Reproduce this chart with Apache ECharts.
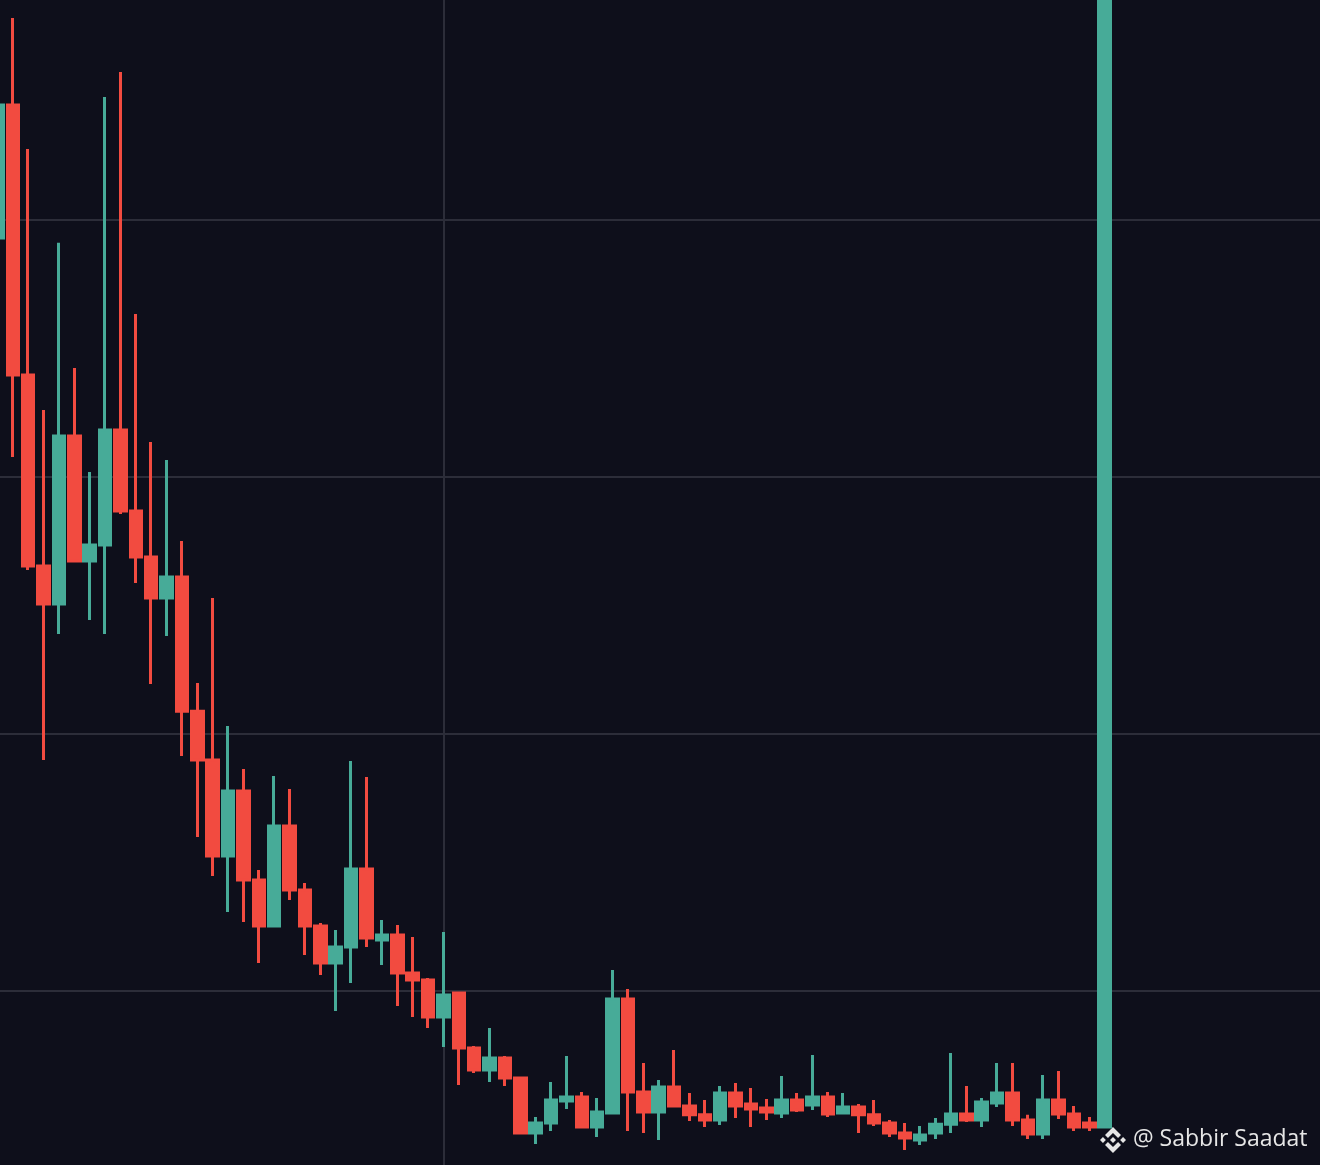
<!DOCTYPE html>
<html>
<head>
<meta charset="utf-8">
<title>Candles</title>
<script src="https://cdn.jsdelivr.net/npm/echarts@6/dist/echarts.min.js"></script>
<style>
  html, body { margin: 0; padding: 0; background: #0e0f1b; }
  #chart { width: 1320px; height: 1165px; }
</style>
</head>
<body>
<div id="chart"></div>
<script>
// candle values (one grid step = 1 unit, no labels shown)
var opens = [3.930, 4.447, 3.397, 2.654, 2.506, 3.160, 2.673, 2.735, 3.183, 2.868,
  2.689, 2.529, 2.611, 2.089, 1.899, 1.525, 1.778, 1.432, 1.253, 1.642,
  1.393, 1.253, 1.109, 1.171, 1.475, 1.198, 1.218, 1.070, 1.043, 0.899,
  0.992, 0.778, 0.693, 0.739, 0.661, 0.447, 0.486, 0.572, 0.588, 0.471,
  0.525, 0.969, 0.607, 0.529, 0.626, 0.553, 0.518, 0.498, 0.603, 0.560,
  0.545, 0.525, 0.576, 0.556, 0.588, 0.525, 0.549, 0.518, 0.486, 0.447,
  0.420, 0.447, 0.482, 0.521, 0.498, 0.564, 0.603, 0.498, 0.444, 0.576,
  0.521, 0.486, 0.471];
var closes = [4.447, 3.397, 2.654, 2.506, 3.160, 2.673, 2.735, 3.183, 2.868, 2.689,
  2.529, 2.611, 2.089, 1.899, 1.525, 1.778, 1.432, 1.253, 1.642, 1.393,
  1.253, 1.109, 1.171, 1.475, 1.206, 1.218, 1.070, 1.043, 0.899, 0.984,
  0.778, 0.693, 0.739, 0.661, 0.447, 0.486, 0.576, 0.588, 0.471, 0.529,
  0.969, 0.607, 0.529, 0.626, 0.553, 0.518, 0.498, 0.603, 0.553, 0.541,
  0.529, 0.576, 0.537, 0.588, 0.521, 0.549, 0.518, 0.486, 0.447, 0.428,
  0.440, 0.482, 0.521, 0.498, 0.568, 0.603, 0.498, 0.444, 0.576, 0.521,
  0.471, 0.471, 5.400];
var lows = [3.903, 3.078, 2.638, 1.899, 2.389, 2.673, 2.444, 2.389, 2.856, 2.588,
  2.195, 2.381, 1.914, 1.599, 1.447, 1.307, 1.268, 1.109, 1.253, 1.354,
  1.140, 1.062, 0.922, 1.031, 1.171, 1.101, 0.942, 0.899, 0.856, 0.782,
  0.634, 0.681, 0.646, 0.630, 0.447, 0.405, 0.455, 0.541, 0.467, 0.432,
  0.521, 0.455, 0.447, 0.420, 0.553, 0.494, 0.471, 0.479, 0.506, 0.471,
  0.498, 0.506, 0.529, 0.537, 0.510, 0.525, 0.447, 0.475, 0.432, 0.381,
  0.401, 0.424, 0.447, 0.490, 0.471, 0.549, 0.475, 0.424, 0.424, 0.502,
  0.455, 0.455, 0.471];
var highs = [4.467, 4.786, 4.276, 3.261, 3.911, 3.424, 3.019, 4.479, 4.576, 3.634,
  3.136, 3.066, 2.751, 2.198, 2.529, 2.031, 1.864, 1.471, 1.837, 1.786,
  1.420, 1.265, 1.237, 1.895, 1.833, 1.276, 1.257, 1.210, 1.051, 1.230,
  0.992, 0.786, 0.856, 0.747, 0.661, 0.510, 0.646, 0.747, 0.607, 0.584,
  1.082, 1.008, 0.720, 0.654, 0.770, 0.603, 0.576, 0.630, 0.642, 0.623,
  0.580, 0.669, 0.603, 0.751, 0.607, 0.603, 0.560, 0.576, 0.498, 0.486,
  0.475, 0.506, 0.759, 0.630, 0.584, 0.720, 0.720, 0.518, 0.673, 0.689,
  0.553, 0.510, 5.400];
var slotCount = 87; // empty slots keep room on the right
var vLineAt = 29;   // the one vertical grid line

var days = [];
for (var i = 0; i < slotCount; i++) days.push(String(i + 1));
var candles = opens.map(function (o, i) {
  return [o, closes[i], lows[i], highs[i]];
});

var UP = '#47ab98', DOWN = '#f24b40', GRID = '#2c2d39', INK = '#e6e6e6';

// binance mark, drawn in a 126.61 box and scaled down
var logoParts = [
  [[38.73, 53.2], [63.3, 28.64], [87.88, 53.22], [102.18, 38.92], [63.3, 0], [24.43, 38.9]],
  [[0, 63.31], [14.3, 49.01], [28.6, 63.31], [14.3, 77.61]],
  [[38.73, 73.41], [63.3, 98], [87.88, 73.42], [102.18, 87.71], [63.3, 126.61], [24.43, 87.74]],
  [[98.01, 63.31], [112.31, 49.01], [126.61, 63.31], [112.31, 77.61]],
  [[77.81, 63.3], [63.3, 48.78], [48.79, 63.3], [63.3, 77.83]]
];

var chart = echarts.init(document.getElementById('chart'));
chart.setOption({
  backgroundColor: '#0e0f1b',
  animation: false,
  grid: { left: -2.6, right: 0, top: -37, bottom: -83, outerBoundsMode: 'none' },
  xAxis: {
    type: 'category',
    data: days,
    boundaryGap: false,
    axisLine: { show: false },
    axisTick: { show: false },
    axisLabel: { show: false },
    splitLine: {
      show: true,
      interval: function (index) { return index === vLineAt; },
      lineStyle: { color: GRID, width: 2 }
    }
  },
  yAxis: {
    type: 'value',
    min: 0,
    max: 5,
    interval: 1,
    axisLine: { show: false },
    axisTick: { show: false },
    axisLabel: { show: false },
    splitLine: { lineStyle: { color: GRID, width: 2 } }
  },
  series: [{
    type: 'candlestick',
    data: candles,
    barWidth: 12,
    itemStyle: {
      color: UP,
      color0: DOWN,
      borderColor: UP,
      borderColor0: DOWN,
      borderWidth: 3
    }
  }],
  graphic: [{
    type: 'group',
    x: 1100,
    y: 1127,
    scaleX: 26 / 126.61,
    scaleY: 26 / 126.61,
    z: 100,
    children: logoParts.map(function (pts) {
      return { type: 'polygon', shape: { points: pts }, style: { fill: INK } };
    })
  }, {
    type: 'text',
    z: 100,
    x: 1133,
    y: 1128,
    style: {
      text: '@ Sabbir Saadat',
      font: '23px "Open Sans", sans-serif',
      fill: INK
    }
  }]
});
</script>
</body>
</html>
